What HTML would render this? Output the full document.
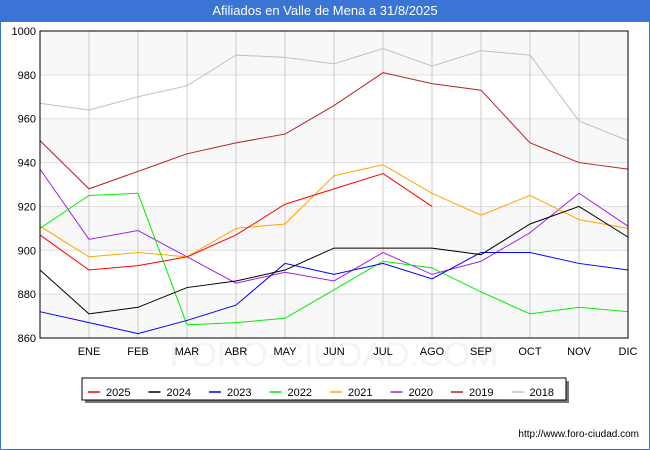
<!DOCTYPE html>
<html><head><meta charset="utf-8"><style>
body{margin:0;width:650px;height:450px;background:#fff;font-family:"Liberation Sans",sans-serif;overflow:hidden}
#wrap{position:absolute;left:0;top:0;width:648px;height:448px;border:1px solid #3a75d6}
#title{position:absolute;left:0;top:0;width:650px;height:22px;background:#3a75d6;color:#fff;font-size:13px;line-height:22px;text-align:center}
</style></head><body>
<div id="wrap"></div>
<div id="title">Afiliados en Valle de Mena a 31/8/2025</div>
<svg id="chart" width="650" height="450" style="position:absolute;left:0;top:0"></svg>
<script>
const months=["","ENE","FEB","MAR","ABR","MAY","JUN","JUL","AGO","SEP","OCT","NOV","DIC"];
const yTicks=[860,880,900,920,940,960,980,1000];
const seriesNames=["2025","2024","2023","2022","2021","2020","2019","2018"];
const seriesColors=["#ff0000","#000000","#0000ff","#00ee00","#ffa500","#a020f0","#b22222","#c0c0c0"];
const s2025=[907,891,893,897,907,921,928,935,920];
const s2024=[891,871,874,883,886,891,901,901,901,898,912,920,906];
const s2023=[872,867,862,868,875,894,889,894,887,899,899,894,891];
const s2022=[910,925,926,866,867,869,882,895,892,881,871,874,872];
const s2021=[911,897,899,897,910,912,934,939,926,916,925,914,910];
const s2020=[937,905,909,897,885,890,886,899,889,895,908,926,911];
const s2019=[950,928,936,944,949,953,966,981,976,973,949,940,937];
const s2018=[967,964,970,975,989,988,985,992,984,991,989,959,950];
const allSeries=[s2025,s2024,s2023,s2022,s2021,s2020,s2019,s2018];
const NS="http://www.w3.org/2000/svg";
const svg=document.getElementById('chart');
const L=40,R=628,T=31,B=338,ymin=860,ymax=1000;
const x=i=>L+i*(R-L)/12;
const y=v=>B-(v-ymin)*(B-T)/(ymax-ymin);
function mk(t,a){const e=document.createElementNS(NS,t);for(const k in a)e.setAttribute(k,a[k]);svg.appendChild(e);return e;}
const wm=mk('text',{x:334,y:366,'text-anchor':'middle','font-size':'34',fill:'#f3f4f7'});
wm.textContent='FORO-CIUDAD.COM';


for(let k=0;k<yTicks.length-1;k++){
 if(k%2==0){const r=mk('rect',{x:L,y:y(yTicks[k+1]),width:R-L,height:y(yTicks[k])-y(yTicks[k+1]),fill:'#f8f8f8'});
 
 }
}
yTicks.forEach(v=>{
 const g=mk('line',{x1:L,x2:R,y1:y(v),y2:y(v),stroke:'#dddddd'});
 
 
 const t=mk('text',{x:L-4,y:y(v)+4,'text-anchor':'end','font-size':'11',fill:'#000'});
 t.textContent=v;
 
 
});
months.forEach((m,i)=>{
 if(i>0){const g=mk('line',{x1:x(i),x2:x(i),y1:T,y2:B,stroke:'#cccccc'});
 
 }
 const t=mk('text',{x:x(i),y:B+17,'text-anchor':'middle','font-size':'11',fill:'#000'});
 t.textContent=m;
 
 
});
for(let s=allSeries.length-1;s>=0;s--){
 const pts=allSeries[s].map((v,i)=>x(i)+','+y(v)).join(' ');
 const p=mk('polyline',{points:pts,fill:'none',stroke:seriesColors[s],'stroke-width':'1'});
 
 
}
const fr=mk('rect',{x:L,y:T,width:R-L,height:B-T,fill:'none',stroke:'#000'});


const sh=mk('rect',{x:85,y:381,width:484,height:22,fill:'#777'});


const lb=mk('rect',{x:82,y:378,width:484,height:22,fill:'#fff',stroke:'#000'});


seriesNames.forEach((n,i)=>{
 const lx=88+i*60.5;
 const l=mk('line',{x1:lx,x2:lx+12,y1:392,y2:392,stroke:seriesColors[i],'stroke-width':'1.5'});
 
 
 const t=mk('text',{x:lx+18,y:396,'font-size':'11',fill:'#000'});
 t.textContent=n;
 
 
});
const u=mk('text',{x:639,y:437,'text-anchor':'end','font-size':'10',fill:'#000'});
u.textContent='http://www.foro-ciudad.com';


</script>
</body></html>
